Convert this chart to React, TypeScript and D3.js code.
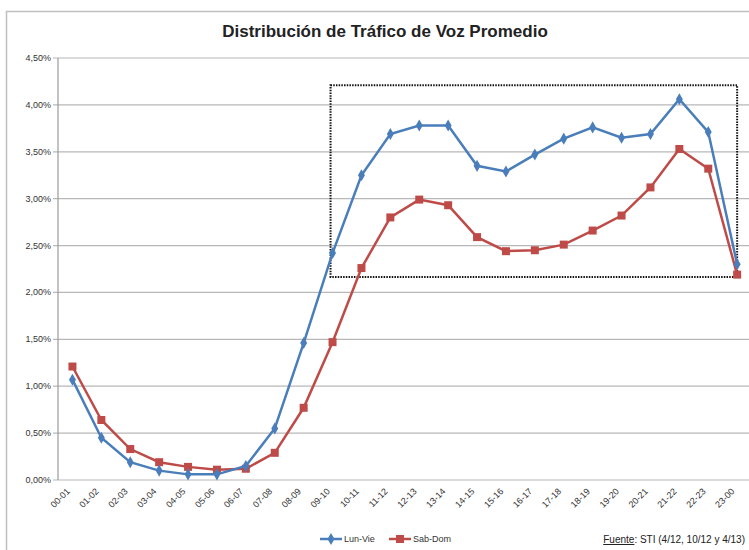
import * as d3 from 'd3';
import React, { useEffect, useRef } from 'react';

const hours = [
  '00-01', '01-02', '02-03', '03-04', '04-05', '05-06', '06-07', '07-08',
  '08-09', '09-10', '10-11', '11-12', '12-13', '13-14', '14-15', '15-16',
  '16-17', '17-18', '18-19', '19-20', '20-21', '21-22', '22-23', '23-00',
];
const lunVie = [
  1.07, 0.45, 0.19, 0.10, 0.06, 0.06, 0.15, 0.55, 1.46, 2.42, 3.25, 3.69,
  3.78, 3.78, 3.35, 3.29, 3.47, 3.64, 3.76, 3.65, 3.69, 4.06, 3.71, 2.30,
];
const sabDom = [
  1.21, 0.64, 0.33, 0.19, 0.14, 0.11, 0.12, 0.29, 0.77, 1.47, 2.26, 2.80,
  2.99, 2.93, 2.59, 2.44, 2.45, 2.51, 2.66, 2.82, 3.12, 3.53, 3.32, 2.19,
];
const yTicks = [0, 0.5, 1, 1.5, 2, 2.5, 3, 3.5, 4, 4.5];
// highlighted zone: 09-10 .. 23-00, 2.165% .. 4.21%
const zone = { from: '09-10', to: '23-00', low: 2.165, high: 4.21 };

const BLUE = '#4a7ebb';
const RED = '#be4b48';
const FONT = '"Liberation Sans", Arial, sans-serif';

export default function App() {
  const ref = useRef<SVGSVGElement>(null);

  useEffect(() => {
    if (!ref.current) return;
    const svg = d3.select(ref.current);
    svg.selectAll('*').remove();

    const width = 749;
    const height = 550;
    const left = 58;
    const top = 58;
    const bottom = 480;

    const x = d3.scaleBand<string>().domain(hours).range([left, left + 24 * 28.9]);
    const y = d3.scaleLinear().domain([0, 4.5]).range([bottom, top]);
    const cx = (h: string) => (x(h) as number) + x.bandwidth() / 2;

    svg.attr('width', width).attr('height', height).style('font-family', FONT);

    svg.append('rect')
      .attr('x', 0).attr('y', 0).attr('width', width).attr('height', height)
      .attr('fill', '#fff');

    // outer chart border
    svg.append('rect')
      .attr('x', 6.5).attr('y', 11.5).attr('width', width + 10).attr('height', height)
      .attr('fill', 'none').attr('stroke', '#bfbfbf').attr('stroke-width', 1.5);

    svg.append('text')
      .attr('x', 385).attr('y', 37)
      .attr('text-anchor', 'middle')
      .attr('font-size', 17).attr('font-weight', 'bold').attr('fill', '#222')
      .text('Distribución de Tráfico de Voz Promedio');

    // grid
    svg.append('g').selectAll('line')
      .data(yTicks)
      .enter().append('line')
      .attr('x1', left - 5).attr('x2', width)
      .attr('y1', d => y(d)).attr('y2', d => y(d))
      .attr('stroke', '#b8b8b8').attr('stroke-width', 1.2);

    svg.append('line')
      .attr('x1', left).attr('x2', left).attr('y1', top).attr('y2', bottom)
      .attr('stroke', '#9a9a9a').attr('stroke-width', 1.2);

    svg.append('g').selectAll('text')
      .data(yTicks)
      .enter().append('text')
      .attr('x', left - 7).attr('y', d => y(d) + 3)
      .attr('text-anchor', 'end')
      .attr('font-size', 9).attr('fill', '#333')
      .text(d => d3.format('.2f')(d).replace('.', ',') + '%');

    // x labels
    svg.append('g').selectAll('text')
      .data(hours)
      .enter().append('text')
      .attr('transform', d => `translate(${cx(d) - 2},${bottom + 12}) rotate(-45)`)
      .attr('text-anchor', 'end')
      .attr('font-size', 9).attr('fill', '#333')
      .text(d => d);

    // highlight box
    svg.append('rect')
      .attr('x', cx(zone.from) - 2)
      .attr('y', y(zone.high))
      .attr('width', cx(zone.to) - cx(zone.from) + 2)
      .attr('height', y(zone.low) - y(zone.high))
      .attr('fill', 'none').attr('stroke', '#111')
      .attr('stroke-width', 2).attr('stroke-dasharray', '1.5,1.2');

    const line = d3.line<number>()
      .x((_, i) => cx(hours[i]))
      .y(d => y(d));

    const diamond = d3.symbol().type(d3.symbolDiamond).size(42);
    const square = d3.symbol().type(d3.symbolSquare).size(64);

    svg.append('path').datum(sabDom)
      .attr('d', line).attr('fill', 'none').attr('stroke', RED).attr('stroke-width', 2.5);
    svg.append('g').selectAll('path')
      .data(sabDom).enter().append('path')
      .attr('d', square)
      .attr('transform', (d, i) => `translate(${cx(hours[i])},${y(d)})`)
      .attr('fill', RED);

    svg.append('path').datum(lunVie)
      .attr('d', line).attr('fill', 'none').attr('stroke', BLUE).attr('stroke-width', 2.5);
    svg.append('g').selectAll('path')
      .data(lunVie).enter().append('path')
      .attr('d', diamond)
      .attr('transform', (d, i) => `translate(${cx(hours[i])},${y(d)})`)
      .attr('fill', BLUE);

    // legend
    const legend = [
      { name: 'Lun-Vie', color: BLUE, sym: diamond, x: 320 },
      { name: 'Sab-Dom', color: RED, sym: square, x: 389 },
    ];
    const lg = svg.append('g').selectAll('g')
      .data(legend).enter().append('g')
      .attr('transform', d => `translate(${d.x},539)`);
    lg.append('line')
      .attr('x1', 0).attr('x2', 22).attr('y1', 0).attr('y2', 0)
      .attr('stroke', d => d.color).attr('stroke-width', 2.5);
    lg.append('path')
      .attr('d', d => d.sym())
      .attr('transform', 'translate(11,0)')
      .attr('fill', d => d.color);
    lg.append('text')
      .attr('x', 24).attr('y', 3)
      .attr('font-size', 9).attr('fill', '#333')
      .text(d => d.name);

    const src = svg.append('text')
      .attr('x', 745).attr('y', 543)
      .attr('text-anchor', 'end')
      .attr('font-size', 10).attr('fill', '#222');
    src.append('tspan').attr('text-decoration', 'underline').text('Fuente');
    src.append('tspan').text(': STI (4/12, 10/12 y 4/13)');
  }, []);

  return <svg ref={ref} style={{ display: 'block', position: 'absolute', left: 0, top: 0 }} />;
}
